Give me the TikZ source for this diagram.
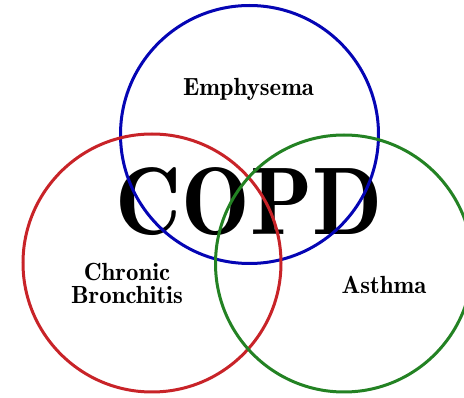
\documentclass[tikz,border=0pt]{standalone}
\usepackage{graphicx}
\definecolor{cblue}{RGB}{5,5,180}
\definecolor{cred}{RGB}{200,35,40}
\definecolor{cgreen}{RGB}{35,130,35}
\tikzset{
  ring/.style={line width=3pt},
  lbl/.style={anchor=base, inner sep=0pt, font=\fontsize{24.8}{21}\fontseries{b}\selectfont},
}
\begin{document}
\begin{tikzpicture}[x=1pt,y=-1pt]
\useasboundingbox (0,0) rectangle (464,398);
\clip (0,0) rectangle (464,398);
\node[anchor=base, inner sep=0pt, font=\fontsize{91.5}{91.5}\fontseries{b}\selectfont] (copd) at (249,235) {\scalebox{1}[1.05]{COPD}};
\node[lbl] (emph) at (248.5,96) {Emphysema};
\node[lbl] (chron) at (127,281) {Chronic};
\node[lbl] (bron) at (127,304) {Bronchitis};
\node[lbl] (asth) at (384,294) {Asthma};
\draw[ring, cblue] (249.5,134.5) circle[radius=129];
\draw[ring, cred] (152,263) circle[radius=129];
\draw[ring, cgreen] (344,263.5) circle[radius=128.5];
\end{tikzpicture}
\end{document}
